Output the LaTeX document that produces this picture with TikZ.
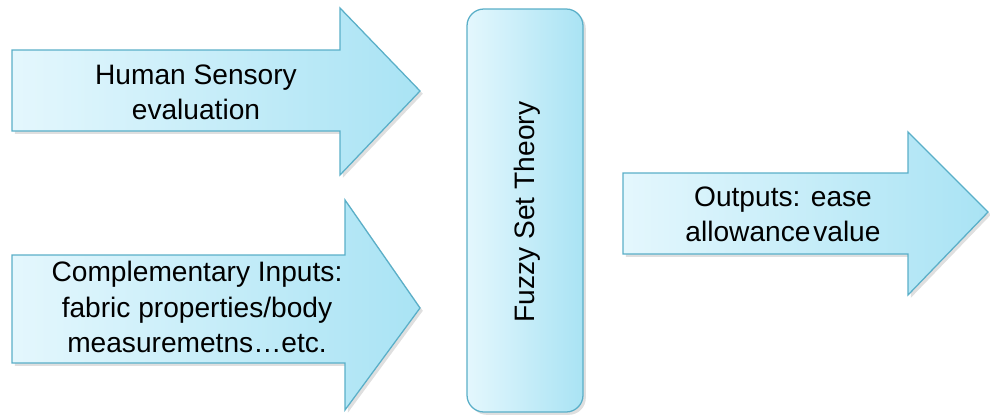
\documentclass[tikz,border=0pt]{standalone}
\usepackage{fontspec}
\setmainfont{Liberation Sans}
\usetikzlibrary{shadows}

\definecolor{edgeblue}{HTML}{5AAFC8}
\definecolor{filllight}{HTML}{E4F7FD}
\definecolor{filldark}{HTML}{A9E3F4}

\begin{document}
\begin{tikzpicture}[
    x=0.025cm, y=-0.025cm,
    shape fill/.style={draw=edgeblue, line width=0.9pt, left color=filllight, right color=filldark,
      drop shadow={opacity=0.25, shadow xshift=2pt, shadow yshift=-2pt}},
    label text/.style={align=center, font=\fontsize{20}{25}\selectfont}
  ]
    \useasboundingbox (0,0) rectangle (990,414);

    % input arrows
    \draw[shape fill] (12,50) -- (340,50) -- (340,8) -- (420,91) -- (340,175) -- (340,131) -- (12,131) -- cycle;
    \draw[shape fill] (12,255) -- (345,255) -- (345,200) -- (420,308) -- (345,410) -- (345,363) -- (12,363) -- cycle;

    % theory block
    \draw[shape fill, rounded corners=12] (467,9) rectangle (583,412);

    % output arrow
    \draw[shape fill] (623,173) -- (908,173) -- (908,132) -- (988,212) -- (908,295) -- (908,254) -- (623,254) -- cycle;

    \node[label text] (human) at (196,92) {Human Sensory\\evaluation};
    \node[label text] (compl) at (197,307) {Complementary Inputs:\\fabric properties/body\\measuremetns\ldots etc.};
    \node[label text, rotate=90] (fuzzy) at (527,212) {Fuzzy Set Theory};
    \node[label text] (outputs) at (783,214) {Outputs: ease\\allowance\kern0.1em value};
  \end{tikzpicture}
\end{document}
